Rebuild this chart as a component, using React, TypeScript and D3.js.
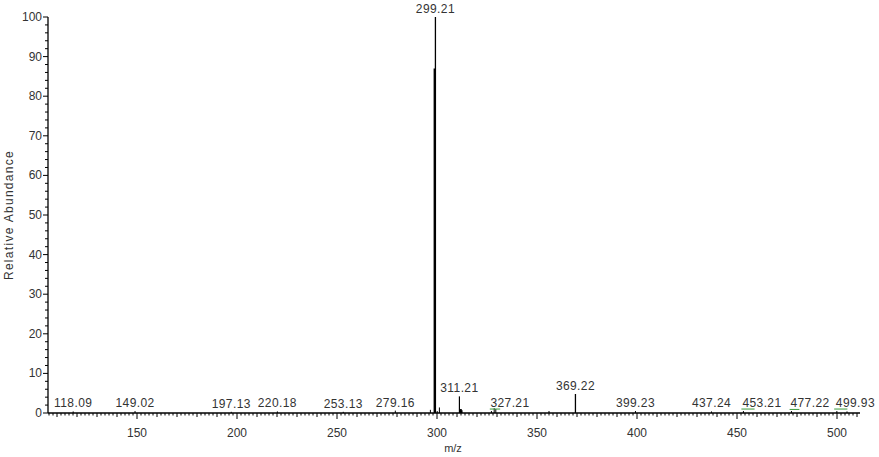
import React from 'react';
import * as d3 from 'd3';

// peak list (m/z, relative abundance)
const peakMz = [118.09, 149.02, 197.13, 220.18, 253.13, 279.16, 296.7, 298.9, 299.21, 300.1, 301.2, 311.21, 311.9, 312.4, 327.21, 328.6, 329.4, 356.0, 369.22, 399.23, 437.24, 453.21, 477.22, 499.93, 505.0];
const peakAbund = [0.4, 0.5, 0.3, 0.4, 0.3, 0.6, 0.8, 87, 100, 0.5, 1.4, 4.2, 1.0, 0.7, 0.5, 1.2, 1.0, 0.5, 4.8, 0.5, 0.4, 0.5, 0.5, 0.5, 0.4];
const peakWidth = [1, 1, 1, 1, 1, 1, 1, 2.4, 1.3, 1, 1, 1.2, 2, 1.5, 1, 1, 1, 1, 1.3, 1, 1, 1, 1, 1, 1];

// labelled peaks
const labelMz = [118.09, 149.02, 197.13, 220.18, 253.13, 279.16, 299.21, 311.21, 327.21, 369.22, 399.23, 437.24, 453.21, 477.22, 499.93];
const labelAbund = [0.4, 0.5, 0.3, 0.4, 0.3, 0.6, 100, 4.2, 0.5, 4.8, 0.5, 0.4, 0.5, 0.5, 0.5];
// labels written to the right of their peak instead of centred on it
const leftAligned = [327.21, 453.21, 477.22, 499.93];

// faint green traces under a few labels
const greenFrom = [326.4, 452.2, 476.3, 498.6];
const greenTo = [331.6, 458.8, 481.2, 505.2];
const greenLevel = [1.0, 1.0, 0.9, 1.0];

const yMajor = [0, 10, 20, 30, 40, 50, 60, 70, 80, 90, 100];
const xMajor = [150, 200, 250, 300, 350, 400, 450, 500];

const W = 879;
const H = 457;
const left = 48;
const right = 860;
const top = 17;
const bottom = 413;

const App = () => {
  const x = d3.scaleLinear().domain([105.5, 511.5]).range([left, right]);
  const y = d3.scaleLinear().domain([0, 100]).range([bottom, top]);

  const xMinor = d3.range(106, 511.5, 2);
  const yMinor = d3.range(0, 100.1, 2);
  const font = 'Arial, "Liberation Sans", sans-serif';

  return (
    <svg width={W} height={H} style={{ position: 'absolute', left: 0, top: 0, background: '#fff' }}>
      {/* peaks */}
      {peakMz.map((m, i) => (
        <line key={'p' + i} x1={x(m)} x2={x(m)} y1={y(0)} y2={y(peakAbund[i])}
          stroke="#000" strokeWidth={peakWidth[i]} />
      ))}
      {greenFrom.map((g, i) => (
        <line key={'g' + i} x1={x(g)} x2={x(greenTo[i])} y1={y(greenLevel[i])} y2={y(greenLevel[i])}
          stroke="#3a9a3a" strokeWidth={1} />
      ))}

      {/* y axis */}
      <line x1={left} x2={left} y1={top} y2={bottom} stroke="#000" strokeWidth={1.3} />
      {yMinor.map(v => (
        <line key={'ym' + v} x1={left - (v % 10 === 0 ? 5 : 3)} x2={left} y1={y(v)} y2={y(v)} stroke="#000" />
      ))}
      {yMajor.map(v => (
        <text key={'yl' + v} x={left - 6} y={y(v) + 4} textAnchor="end" fontSize={12} fontFamily={font} fill="#333">{v}</text>
      ))}

      {/* x axis */}
      <line x1={left} x2={right} y1={bottom} y2={bottom} stroke="#000" strokeWidth={1.3} />
      {xMinor.map(v => (
        <line key={'xm' + v} x1={x(v)} x2={x(v)} y1={bottom}
          y2={bottom + (v % 50 === 0 ? 6 : v % 10 === 0 ? 4 : 2.5)} stroke="#000" />
      ))}
      {xMajor.map(v => (
        <text key={'xl' + v} x={x(v)} y={bottom + 24} textAnchor="middle" fontSize={12} fontFamily={font} fill="#333">{v}</text>
      ))}

      {/* peak labels */}
      {labelMz.map((m, i) => {
        const start = leftAligned.includes(m);
        return (
          <text key={'lb' + i} x={x(m) + (start ? -1 : 0)} y={y(labelAbund[i]) - 4}
            textAnchor={start ? 'start' : 'middle'} fontSize={12} letterSpacing={0.4}
            fontFamily={font} fill="#333">{m.toFixed(2)}</text>
        );
      })}

      {/* axis titles */}
      <text x={453} y={452} textAnchor="middle" fontSize={11} fontFamily={font} fill="#333">m/z</text>
      <text transform={`translate(13,${(top + bottom) / 2}) rotate(-90)`} textAnchor="middle" fontSize={12}
        letterSpacing={1.3} fontFamily={font} fill="#333">Relative Abundance</text>
    </svg>
  );
};

export default App;
